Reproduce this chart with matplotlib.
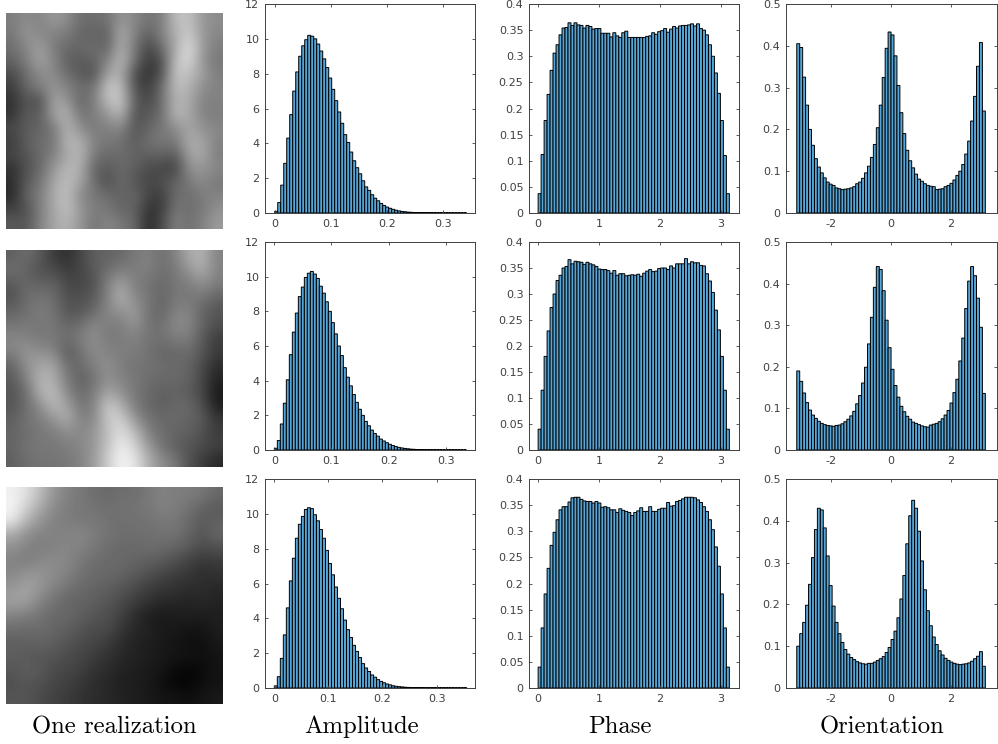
import numpy as np
from matplotlib import pyplot as plt

W, H = 998, 744

# gray levels (coarse grid)
image_1 = [
    [125, 140, 130, 155, 140, 110, 110, 115, 150, 135, 115, 125, 190, 195, 150, 140],
    [120, 150, 135, 130, 125, 100, 100, 95, 175, 130, 95, 130, 175, 205, 150, 135],
    [110, 135, 160, 125, 105, 105, 110, 100, 175, 120, 70, 110, 170, 225, 155, 125],
    [100, 125, 165, 135, 95, 90, 100, 130, 190, 115, 55, 80, 190, 220, 145, 120],
    [75, 110, 140, 140, 110, 90, 80, 165, 175, 75, 50, 80, 200, 190, 160, 125],
    [60, 105, 125, 150, 130, 110, 115, 200, 190, 80, 60, 110, 190, 180, 140, 130],
    [50, 85, 75, 165, 150, 100, 125, 190, 200, 95, 70, 110, 180, 170, 130, 130],
    [50, 95, 90, 160, 180, 115, 125, 150, 185, 80, 90, 110, 185, 170, 130, 125],
    [75, 90, 100, 120, 180, 140, 120, 130, 135, 85, 100, 120, 140, 165, 145, 135],
    [60, 95, 110, 115, 185, 175, 130, 120, 115, 90, 115, 120, 120, 175, 165, 130],
    [70, 85, 105, 130, 165, 185, 120, 105, 110, 100, 95, 100, 90, 160, 170, 125],
    [50, 80, 105, 150, 185, 175, 100, 90, 105, 95, 75, 70, 65, 145, 150, 135],
    [45, 90, 115, 165, 190, 165, 110, 75, 110, 85, 70, 80, 100, 120, 140, 120],
    [40, 100, 125, 170, 195, 135, 120, 110, 95, 105, 70, 60, 110, 110, 125, 130],
    [65, 80, 125, 165, 195, 150, 125, 120, 100, 100, 50, 60, 120, 110, 120, 145],
    [90, 85, 130, 165, 180, 150, 115, 135, 120, 105, 40, 75, 130, 110, 130, 155],
]
image_2 = [
    [95, 110, 90, 60, 45, 70, 95, 100, 105, 120, 130, 110, 130, 170, 180, 130],
    [110, 100, 80, 75, 60, 70, 90, 110, 125, 125, 130, 110, 120, 150, 175, 130],
    [90, 105, 95, 100, 70, 70, 80, 130, 160, 125, 115, 105, 120, 125, 145, 125],
    [80, 110, 115, 110, 80, 80, 90, 130, 180, 135, 120, 100, 120, 120, 120, 100],
    [100, 110, 125, 115, 85, 85, 105, 135, 150, 155, 115, 100, 130, 130, 100, 85],
    [115, 120, 120, 120, 100, 110, 135, 125, 125, 150, 115, 110, 140, 135, 100, 80],
    [135, 130, 120, 120, 110, 125, 145, 120, 125, 130, 115, 115, 125, 125, 90, 60],
    [130, 150, 140, 135, 90, 115, 140, 130, 125, 125, 115, 100, 105, 110, 85, 60],
    [100, 145, 165, 165, 110, 105, 130, 145, 125, 115, 115, 110, 105, 100, 75, 45],
    [90, 130, 180, 175, 125, 95, 115, 145, 130, 120, 110, 105, 105, 100, 70, 35],
    [85, 110, 175, 190, 135, 105, 125, 165, 145, 120, 105, 95, 100, 90, 70, 25],
    [85, 110, 140, 185, 165, 115, 130, 205, 175, 125, 105, 95, 105, 105, 80, 30],
    [95, 115, 125, 145, 175, 130, 135, 200, 210, 150, 115, 105, 105, 100, 90, 55],
    [100, 110, 120, 125, 140, 135, 150, 190, 225, 190, 130, 110, 100, 95, 80, 60],
    [100, 115, 120, 120, 125, 135, 150, 195, 240, 210, 155, 115, 95, 85, 75, 65],
    [95, 110, 115, 115, 120, 130, 155, 205, 245, 230, 175, 140, 120, 80, 60, 40],
]
image_3 = [
    [240, 225, 190, 150, 130, 120, 110, 105, 110, 110, 120, 130, 125, 125, 120, 105],
    [245, 210, 170, 140, 125, 120, 115, 110, 115, 115, 120, 130, 125, 115, 100, 90],
    [235, 180, 150, 130, 125, 120, 120, 115, 110, 115, 115, 120, 120, 105, 90, 95],
    [170, 145, 130, 130, 130, 135, 125, 115, 110, 110, 110, 115, 115, 100, 85, 105],
    [145, 130, 125, 130, 135, 130, 120, 110, 105, 105, 110, 105, 100, 90, 75, 80],
    [130, 125, 135, 140, 135, 120, 110, 105, 105, 100, 95, 90, 80, 65, 55, 60],
    [135, 150, 150, 140, 130, 115, 105, 105, 100, 90, 80, 70, 60, 55, 45, 50],
    [150, 165, 150, 130, 115, 105, 100, 95, 85, 75, 60, 55, 50, 45, 45, 40],
    [160, 160, 130, 115, 100, 100, 95, 85, 75, 60, 50, 40, 40, 35, 40, 35],
    [130, 125, 115, 105, 105, 95, 85, 80, 65, 45, 30, 25, 30, 30, 30, 30],
    [110, 105, 110, 100, 95, 85, 75, 75, 55, 40, 35, 25, 25, 20, 20, 30],
    [95, 95, 100, 95, 85, 75, 70, 60, 45, 35, 30, 25, 20, 15, 15, 25],
    [95, 90, 85, 85, 75, 70, 60, 50, 40, 35, 30, 25, 20, 20, 15, 20],
    [85, 95, 90, 75, 70, 65, 50, 45, 35, 30, 25, 20, 10, 5, 10, 20],
    [80, 85, 80, 70, 65, 55, 45, 40, 30, 30, 25, 15, 5, 5, 15, 20],
    [85, 85, 75, 65, 60, 50, 45, 40, 35, 30, 25, 20, 20, 15, 20, 25],
]

# histogram heights, 64 bins each
amp_1 = [.1, .6, 1.6, 2.85, 4.3, 5.65, 7.0, 8.1, 9.0, 9.6,
         9.95, 10.2, 10.15, 10.0, 9.7, 9.3, 8.85, 8.35, 7.75, 7.1,
         6.45, 5.8, 5.15, 4.5, 4.05, 3.5, 3.0, 2.6, 2.25, 1.85,
         1.5, 1.3, 1.05, .85, .7, .55, .43, .34, .27, .21,
         .16, .12, .09, .07, .05, .04, .03, .025, .02, .015,
         .012, .01, .008, .006, .005, .004, .004, .003, .003, .002,
         .002, .002, .001, .001]
amp_2 = [.1, .55, 1.5, 2.7, 4.05, 5.5, 6.8, 7.9, 8.85, 9.4,
         9.95, 10.2, 10.3, 10.15, 9.9, 9.45, 9.05, 8.55, 8.0, 7.35,
         6.7, 6.0, 5.45, 4.75, 4.2, 3.7, 3.2, 2.75, 2.35, 2.0,
         1.65, 1.4, 1.15, .95, .8, .63, .52, .42, .33, .26,
         .2, .15, .12, .09, .07, .05, .04, .03, .02, .015,
         .012, .01, .008, .006, .005, .004, .004, .003, .003, .002,
         .002, .002, .001, .001]
amp_3 = [.12, .65, 1.7, 3.05, 4.6, 6.15, 7.45, 8.6, 9.4, 9.85,
         10.25, 10.35, 10.3, 9.95, 9.6, 9.1, 8.6, 7.9, 7.15, 6.5,
         5.8, 5.15, 4.55, 3.9, 3.35, 2.9, 2.45, 2.1, 1.75, 1.4,
         1.15, .95, .75, .62, .48, .38, .3, .23, .18, .13,
         .1, .08, .06, .045, .035, .025, .02, .015, .012, .01,
         .008, .006, .005, .004, .004, .003, .003, .002, .002, .002,
         .001, .001, .001, .001]

phase_1 = [.037, .112, .177, .227, .273, .306, .322, .341, .354, .355,
           .364, .359, .364, .36, .359, .354, .359, .357, .352, .353,
           .353, .344, .344, .344, .337, .345, .339, .336, .345, .348,
           .336, .336, .336, .336, .336, .336, .338, .339, .345, .342,
           .347, .349, .353, .346, .352, .357, .354, .358, .359, .359,
           .36, .362, .358, .362, .353, .35, .341, .322, .3, .268,
           .229, .177, .11, .037]
phase_2 = [.04, .115, .18, .229, .274, .3, .326, .336, .35, .353,
           .366, .358, .363, .362, .361, .357, .361, .358, .356, .353,
           .348, .347, .347, .345, .34, .345, .336, .339, .339, .335,
           .336, .337, .336, .338, .334, .34, .344, .347, .343, .344,
           .349, .35, .35, .347, .354, .35, .358, .358, .358, .368,
           .358, .362, .36, .36, .355, .354, .339, .325, .303, .269,
           .231, .18, .115, .04]
phase_3 = [.04, .115, .18, .229, .273, .298, .322, .341, .347, .347,
           .356, .364, .365, .365, .361, .358, .357, .357, .354, .357,
           .354, .346, .347, .345, .341, .341, .336, .343, .34, .338,
           .336, .33, .336, .339, .345, .338, .338, .347, .338, .338,
           .342, .344, .344, .355, .348, .349, .357, .359, .362, .365,
           .365, .365, .364, .36, .355, .347, .338, .322, .303, .27,
           .233, .18, .115, .04]

orient_1 = [.405, .396, .325, .258, .2, .162, .13, .11, .096, .084,
            .074, .069, .066, .06, .058, .056, .057, .058, .06, .063,
            .07, .074, .083, .096, .112, .133, .164, .204, .258, .324,
            .394, .433, .426, .376, .305, .24, .19, .15, .125, .108,
            .093, .081, .076, .07, .066, .064, .063, .056, .057, .058,
            .063, .066, .071, .079, .09, .1, .116, .141, .172, .22,
            .279, .351, .408, .244]
orient_2 = [.19, .165, .137, .114, .096, .084, .076, .069, .064, .061,
            .059, .058, .057, .059, .06, .063, .068, .074, .082, .093,
            .111, .131, .161, .199, .255, .319, .391, .441, .434, .383,
            .312, .246, .194, .155, .127, .105, .092, .081, .074, .067,
            .064, .061, .058, .056, .055, .06, .062, .064, .068, .075,
            .084, .095, .113, .138, .17, .214, .269, .34, .406, .441,
            .419, .365, .295, .136]
orient_3 = [.1, .13, .157, .198, .248, .312, .379, .43, .426, .383,
            .316, .245, .196, .157, .13, .109, .092, .081, .073, .068,
            .063, .06, .058, .057, .059, .059, .062, .066, .07, .075,
            .085, .097, .116, .136, .168, .213, .269, .345, .412, .449,
            .43, .375, .304, .235, .185, .149, .122, .104, .089, .079,
            .071, .066, .062, .059, .057, .056, .057, .058, .06, .064,
            .07, .076, .087, .052]

amp_ranges = [(0, 0.3416), (0, 0.336), (0, 0.356)]
amp_xlims = [(-0.0173, 0.3564), (-0.0163, 0.351), (-0.0172, 0.371)]
amp_xticks = [0, 0.1, 0.2, 0.3]
amp_yticks = [0, 2, 4, 6, 8, 10, 12]
phase_xticks = [0, 1, 2, 3]
phase_yticks = [0, .05, .1, .15, .2, .25, .3, .35, .4]
phase_ylabels = ["0", "0.05", "0.1", "0.15", "0.2", "0.25", "0.3", "0.35", "0.4"]
orient_xticks = [-2, 0, 2]
orient_xlabels = ["-2", "0", "2"]
orient_yticks = [0, .1, .2, .3, .4, .5]
orient_ylabels = ["0", "0.1", "0.2", "0.3", "0.4", "0.5"]

titles = ["One realization", "Amplitude", "Phase", "Orientation"]
title_x = [114, 362, 620, 882]

# panel boxes in pixels
img_x = (6, 223)
img_rows = [(13, 229), (250, 467), (487, 704)]
hist_rows = [(4, 213), (242, 450), (479, 688)]
amp_x = (265, 475)
phase_x = (529, 739)
orient_x = (786, 997)

BAR_COLOR = "#55a5d6"
AXIS_COLOR = "#404040"


def add_axes_px(fig, x, y):
    return fig.add_axes([x[0] / W, 1 - y[1] / H, (x[1] - x[0]) / W, (y[1] - y[0]) / H])


def plot_hist(ax, heights, span, xlim, ylim, xticks, yticks, xlabels=None, ylabels=None):
    edges = np.linspace(span[0], span[1], len(heights) + 1)
    bars = ax.bar(edges[:-1], heights, width=np.diff(edges), align="edge",
                  color=BAR_COLOR, edgecolor="black", linewidth=0.7)
    # no pixel snapping, otherwise some edges merge into thick black lines
    for bar in bars:
        bar.set_snap(False)
    ax.set_xlim(xlim)
    ax.set_ylim(ylim)
    ax.set_xticks(xticks)
    ax.set_yticks(yticks)
    if xlabels:
        ax.set_xticklabels(xlabels)
    if ylabels:
        ax.set_yticklabels(ylabels)
    ax.tick_params(direction="in", length=2, width=0.6, top=True, right=True,
                   labelsize=8, colors=AXIS_COLOR, pad=4)
    for spine in ax.spines.values():
        spine.set_color(AXIS_COLOR)
        spine.set_linewidth(0.7)


fig = plt.figure(figsize=(W / 100, H / 100), dpi=100)

images = [image_1, image_2, image_3]
amps = [amp_1, amp_2, amp_3]
phases = [phase_1, phase_2, phase_3]
orients = [orient_1, orient_2, orient_3]

for i in range(3):
    ax = add_axes_px(fig, img_x, img_rows[i])
    ax.imshow(images[i], cmap="gray", vmin=0, vmax=255, aspect="auto", interpolation="bicubic")
    ax.axis("off")

    ax = add_axes_px(fig, amp_x, hist_rows[i])
    plot_hist(ax, amps[i], amp_ranges[i], amp_xlims[i], (0, 12),
              amp_xticks, amp_yticks, ["0", "0.1", "0.2", "0.3"])

    ax = add_axes_px(fig, phase_x, hist_rows[i])
    plot_hist(ax, phases[i], (0, np.pi), (-0.15, 3.3), (0, 0.4),
              phase_xticks, phase_yticks, None, phase_ylabels)

    ax = add_axes_px(fig, orient_x, hist_rows[i])
    plot_hist(ax, orients[i], (-np.pi, np.pi), (-3.5, 3.53), (0, 0.5),
              orient_xticks, orient_yticks, orient_xlabels, orient_ylabels)

for x, title in zip(title_x, titles):
    fig.text(x / W, 1 - 727 / H, title, family="cmr10", fontsize=17.8, ha="center", va="center")

fig.savefig("out.png", dpi=100)
